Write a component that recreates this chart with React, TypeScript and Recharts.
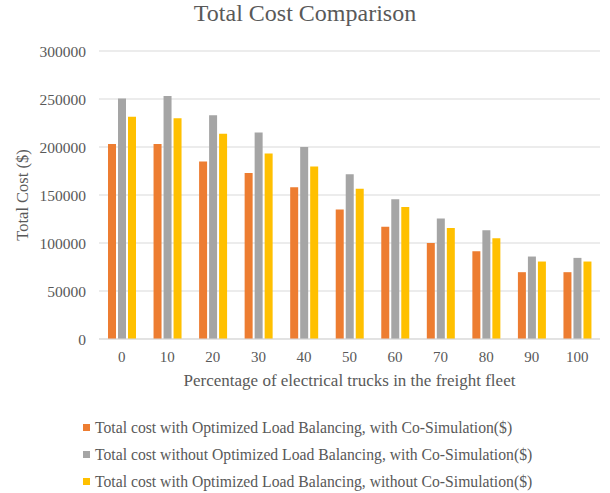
import React from "react";
import { BarChart, Bar, XAxis, YAxis, CartesianGrid, Legend, Label } from "recharts";

const categories = ["0", "10", "20", "30", "40", "50", "60", "70", "80", "90", "100"];
const withOptWithCoSim = [203000, 203000, 185000, 173000, 158000, 135000, 117000, 100000, 91500, 69600, 69600];
const withoutOptWithCoSim = [250500, 253000, 233000, 215000, 200000, 171500, 145500, 125400, 113300, 85900, 84500];
const withOptWithoutCoSim = [231400, 230000, 213700, 193300, 179800, 156600, 137500, 115700, 105000, 80700, 80700];
const yTicks = [0, 50000, 100000, 150000, 200000, 250000, 300000];

const seriesNames = [
  "Total cost with Optimized Load Balancing, with Co-Simulation($)",
  "Total cost without Optimized Load Balancing, with Co-Simulation($)",
  "Total cost with Optimized Load Balancing, without Co-Simulation($)",
];
const seriesColors = ["#ED7D31", "#A5A5A5", "#FFC000"];

const data = categories.map((c, i) => ({
  pct: c,
  a: withOptWithCoSim[i],
  b: withoutOptWithCoSim[i],
  c: withOptWithoutCoSim[i],
}));

const FONT = "'Liberation Serif', 'Times New Roman', serif";
const TXT = "#595959";

const LegendContent = () => (
  <div style={{ fontFamily: FONT, fontSize: 15.7, color: TXT }}>
    {seriesNames.map((n, i) => (
      <div key={n} style={{ display: "flex", alignItems: "center", height: 27, whiteSpace: "nowrap" }}>
        <span style={{ display: "inline-block", width: 7, height: 7, background: seriesColors[i], marginRight: 5 }} />
        <span>{n}</span>
      </div>
    ))}
  </div>
);

export default function App() {
  return (
    <div style={{ position: "absolute", left: 0, top: 0, width: 610, height: 493, background: "#fff" }}>
      <div
        style={{
          position: "absolute",
          left: 0,
          top: 0,
          width: 610,
          textAlign: "center",
          fontFamily: FONT,
          fontSize: 24,
          color: TXT,
        }}
      >
        Total Cost Comparison
      </div>
      <BarChart
        width={610}
        height={493}
        data={data}
        margin={{ top: 51, right: 10, left: 0, bottom: 104 }}
        barSize={8}
        barGap={2}
      >
        <CartesianGrid vertical={false} stroke="#d9d9d9" />
        <XAxis
          dataKey="pct"
          tickLine={false}
          axisLine={{ stroke: "#d9d9d9" }}
          tick={{ fill: TXT, fontFamily: FONT, fontSize: 15 }}
          tickMargin={6}
          height={50}
        >
          <Label
            value="Percentage of electrical trucks in the freight fleet"
            position="insideBottom"
            offset={3}
            style={{ fill: TXT, fontFamily: FONT, fontSize: 17 }}
          />
        </XAxis>
        <YAxis
          domain={[0, 300000]}
          ticks={yTicks}
          width={99}
          tickLine={false}
          axisLine={false}
          tickMargin={7}
          tick={{ fill: TXT, fontFamily: FONT, fontSize: 15.5 }}
        >
          <Label
            value="Total Cost ($)"
            angle={-90}
            position="insideLeft"
            offset={22}
            style={{ fill: TXT, fontFamily: FONT, fontSize: 16.5, textAnchor: "middle" }}
          />
        </YAxis>
        <Legend
          layout="horizontal"
          verticalAlign="middle"
          align="center"
          content={<LegendContent />}
          wrapperStyle={{ top: 414, left: 83, width: 520, bottom: "auto" }}
        />
        <Bar dataKey="a" name={seriesNames[0]} fill={seriesColors[0]} isAnimationActive={false} />
        <Bar dataKey="b" name={seriesNames[1]} fill={seriesColors[1]} isAnimationActive={false} />
        <Bar dataKey="c" name={seriesNames[2]} fill={seriesColors[2]} isAnimationActive={false} />
      </BarChart>
    </div>
  );
}
